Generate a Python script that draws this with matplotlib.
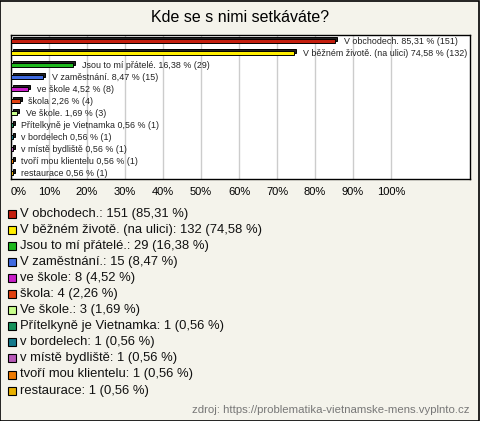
import matplotlib
matplotlib.use("Agg")
import matplotlib.pyplot as plt
import matplotlib.transforms as mtransforms
from matplotlib.patches import Rectangle

plt.rcParams['font.family'] = ['Liberation Sans', 'DejaVu Sans']

# data
answers = ['V obchodech.', 'V běžném životě. (na ulici)', 'Jsou to mí přátelé.',
           'V zaměstnání.', 've škole', 'škola', 'Ve škole.',
           'Přítelkyně je Vietnamka', 'v bordelech', 'v místě bydliště',
           'tvoří mou klientelu', 'restaurace']
counts = [151, 132, 29, 15, 8, 4, 3, 1, 1, 1, 1, 1]
percents = [85.31, 74.58, 16.38, 8.47, 4.52, 2.26, 1.69, 0.56, 0.56, 0.56, 0.56, 0.56]
colors = ['#c41e0e', '#ffee00', '#1db81d', '#3f6ae0', '#c81ec8', '#e0400f',
          '#c8ff8c', '#14915a', '#157a8c', '#b85ab8', '#ee7a00', '#e8b000']
xticks = [0, 10, 20, 30, 40, 50, 60, 70, 80, 90, 100]

bg = '#f4f3eb'
W, H = 480, 421
fig = plt.figure(figsize=(W / 100, H / 100), dpi=100, facecolor=bg)

# outer frame
fig.patches.append(Rectangle((0.001, 0.001), 0.997, 0.997, transform=fig.transFigure,
                             fill=False, edgecolor='black', linewidth=1.2))

fig.text(0.5, 1 - 18 / H, 'Kde se s nimi setkáváte?', ha='center', va='center',
         fontsize=11.5, color='black')

ax = fig.add_axes([11 / W, 1 - 179 / H, 459 / W, 144 / H])
ax.set_facecolor('white')
ax.set_xlim(0, 459 / 3.8)
ax.set_ylim(len(answers) - 0.5, -0.5)

ypos = list(range(len(answers)))
shift = mtransforms.ScaledTranslation(2 / 100, 2 / 100, fig.dpi_scale_trans)
back = ax.barh(ypos, percents, height=0.4, color='#222222', edgecolor='black',
               linewidth=0.7, zorder=2)
for p in back:
    p.set_transform(ax.transData + shift)
front = ax.barh(ypos, percents, height=0.4, color=colors, edgecolor='black',
                linewidth=0.7, zorder=3)

for i in ypos:
    lbl = '%s %s %% (%d)' % (answers[i], ('%.2f' % percents[i]).replace('.', ','), counts[i])
    ax.annotate(lbl, (percents[i], i), xytext=(6, 0), textcoords='offset points',
                ha='left', va='center', fontsize=6.4, color='#222222', zorder=4,
                annotation_clip=False, clip_on=False)

ax.set_xticks(xticks)
ax.set_xticklabels(['%d%%' % t for t in xticks], fontsize=8)
ax.get_xticklabels()[0].set_horizontalalignment('left')
ax.tick_params(axis='x', length=0, pad=6)
ax.set_yticks([])
ax.grid(axis='x', color='#cccccc', linewidth=1, zorder=0)
ax.set_axisbelow(True)
for s in ax.spines.values():
    s.set_linewidth(1)

# legend
for i in ypos:
    y = 1 - (213.5 + 16.1 * i) / H
    fig.patches.append(Rectangle((8 / W, y - 4 / H), 8 / W, 8 / H, transform=fig.transFigure,
                                 facecolor=colors[i], edgecolor='black', linewidth=0.8))
    txt = '%s: %d (%s %%)' % (answers[i], counts[i], ('%.2f' % percents[i]).replace('.', ','))
    fig.text(20 / W, y, txt, ha='left', va='center', fontsize=9.4, color='#111111')

fig.text(470 / W, 1 - 410 / H, 'zdroj: https://problematika-vietnamske-mens.vyplnto.cz',
         ha='right', va='center', fontsize=8.2, color='#777777')

fig.savefig('out.png', dpi=100, facecolor=bg)
